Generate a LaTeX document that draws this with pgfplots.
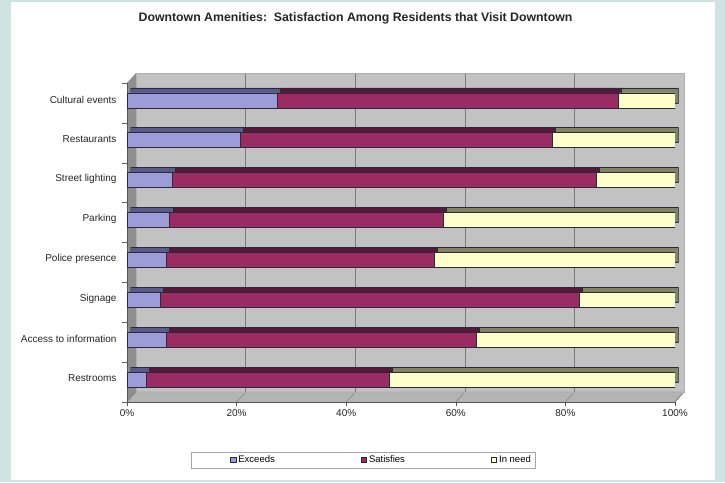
\documentclass[border=0pt]{standalone}
\usepackage{pgfplots}
\pgfplotsset{compat=1.18}
\usepackage{pgfplotstable}
\usepackage{fontspec}
\setmainfont{Liberation Sans}

\definecolor{pageteal}{HTML}{CFE3E3}
\definecolor{wallgray}{HTML}{C2C2C2}
\definecolor{sidegray}{HTML}{8E8E8E}
\definecolor{floorgray}{HTML}{B4B4B4}
\definecolor{gridgray}{HTML}{7A7A7A}
\definecolor{exceedsfront}{HTML}{9C9CD8}
\definecolor{exceedstop}{HTML}{5A5A8A}
\definecolor{satisfront}{HTML}{9B2C63}
\definecolor{satistop}{HTML}{561A38}
\definecolor{needfront}{HTML}{FFFFCC}
\definecolor{needtop}{HTML}{838366}
\definecolor{barline}{HTML}{2A2A3A}

% share of residents per rating (percent), row 0 = bottom bar
\pgfplotstableread{
idx exceeds satisfies inneed
0   3.5   44.3  52.2
1   7.1   56.6  36.3
2   6.0   76.5  17.5
3   7.1   48.9  44.0
4   7.8   49.9  42.3
5   8.2   77.4  14.4
6   20.6  57.0  22.4
7   27.4  62.2  10.4
}\amenities

\pgfplotsset{
  amen/.style={
    scale only axis, width=548pt, height=319pt,
    xmin=0, xmax=100, ymin=-0.562, ymax=7.438,
    xbar stacked, bar width=15pt,
  },
  barstyle/.style={fill=#1, draw=barline, line width=0.7pt},
  squarelegend/.style={
    legend image code/.code={\draw[##1] (0pt,-2.7pt) rectangle (5.5pt,2.7pt);}},
  firstsquarelegend/.style={
    legend image code/.code={\path (0pt,0pt); \draw[##1] (37pt,-2.7pt) rectangle (42.5pt,2.7pt);}},
}

\begin{document}
\begin{tikzpicture}[x=1pt,y=1pt]
% page and chart panel
\fill[pageteal] (0,0) rectangle (725,482);
\fill[white] (11,2) rectangle (715,480);

% walls and floor of the 3-D frame
\fill[wallgray] (136,90) rectangle (684,409);
\fill[sidegray] (127,80) -- (136,90) -- (136,409) -- (127,399) -- cycle;
\fill[floorgray] (127,80) -- (136,90) -- (684,90) -- (675,80) -- cycle;
\draw[gridgray, line width=0.4pt] (127,80) -- (136,90) -- (684,90) -- (675,80);
\foreach \k in {1,...,5} {
  \draw[gridgray, line width=0.4pt] (127+109.6*\k,80) -- (136+109.6*\k,90);
}
% category separators on the left edge
\foreach \j in {0,...,8} {
  \draw[gridgray!80!black, line width=0.4pt] (122,80+39.875*\j) -- (127,80+39.875*\j);
}

% back wall grid
\begin{axis}[
  at={(136pt,90pt)}, anchor=south west,
  scale only axis, width=548pt, height=319pt,
  xmin=0, xmax=100, ymin=0, ymax=1,
  xtick={20,40,60,80}, xticklabels={}, ytick=\empty,
  major tick length=0pt,
  xmajorgrids, grid style={gridgray, line width=0.4pt},
  axis line style={gridgray!60, line width=0.4pt},
]
\end{axis}

% bar depth (top and end faces)
\begin{axis}[amen, at={(130.5pt,85pt)}, anchor=south west, hide axis]
\addplot[barstyle=exceedstop] table[x=exceeds, y=idx] {\amenities};
\addplot[barstyle=satistop] table[x=satisfies, y=idx] {\amenities};
\addplot[barstyle=needtop] table[x=inneed, y=idx] {\amenities};
\end{axis}

% bar fronts, axes and legend
\begin{axis}[amen, at={(127pt,80pt)}, anchor=south west,
  axis x line*=bottom, axis y line*=left,
  axis line style={gridgray!70!black, line width=0.5pt},
  tick align=outside, major tick length=4pt,
  xtick={0,20,...,100},
  xticklabel={\pgfmathprintnumber{\tick}\%},
  xtick style={gridgray!70!black, line width=0.5pt},
  ytick={0,...,7},
  yticklabels={Restrooms, Access to information, Signage, Police presence,
    Parking, Street lighting, Restaurants, Cultural events},
  ytick style={draw=none},
  yticklabel style={xshift=-3pt, yshift=1pt},
  tick label style={font=\fontsize{10}{12}\selectfont, text=black!85},
  /pgf/number format/assume math mode=true,
  legend columns=3,
  squarelegend,
  legend style={at={(0.4307,-0.1818)}, anchor=center,
    draw=gray!70, line width=0.4pt, inner xsep=2pt, inner ysep=2pt,
    font=\fontsize{9.5}{10}\selectfont,
    /tikz/every even column/.append style={column sep=84pt}},
]
\addplot[barstyle=exceedsfront, firstsquarelegend]
  table[x=exceeds, y=idx] {\amenities};
\addlegendentry{Exceeds}
\addplot[barstyle=satisfront] table[x=satisfies, y=idx] {\amenities};
\addlegendentry{Satisfies}
\addplot[barstyle=needfront] table[x=inneed, y=idx] {\amenities};
\addlegendentry{In need}
\end{axis}

% title
\node[font=\bfseries\fontsize{12.3}{14}\selectfont, text=black!85] at (355.5,464)
  {Downtown Amenities:\ \ Satisfaction Among Residents that Visit Downtown};
\end{tikzpicture}
\end{document}
